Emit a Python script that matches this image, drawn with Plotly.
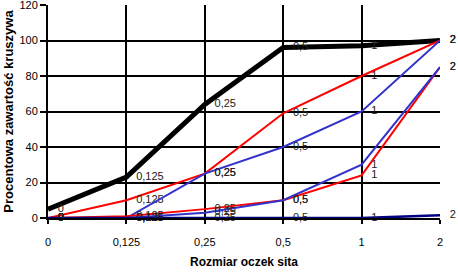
import plotly.graph_objects as go

categories = ["0", "0,125", "0,25", "0,5", "1", "2"]

black_thick = [5, 23, 64, 96, 97, 100]
red_upper = [0, 10, 25, 59, 80, 100]
blue_upper = [0, 0, 25, 40, 60, 100]
red_lower = [0, 1, 5, 10, 24, 85]
blue_lower = [0, 0, 3, 10, 30, 85]
navy_bottom = [0, 0, 0, 0, 0, 1.5]

y_ticks = [0, 20, 40, 60, 80, 100, 120]

series = [
    (black_thick, "#000000", 5),
    (red_upper, "#ff0000", 2),
    (blue_upper, "#3333cc", 2),
    (red_lower, "#ff0000", 2),
    (blue_lower, "#3333cc", 2),
    (navy_bottom, "#000080", 2.5),
]

FONT = "Arial, Liberation Sans, sans-serif"

fig = go.Figure()
for vals, color, w in series:
    fig.add_trace(go.Scatter(
        x=categories, y=vals, mode="lines+markers+text",
        line=dict(color=color, width=w),
        marker=dict(size=14, color="rgba(0,0,0,0)"),
        text=categories, textposition="middle right",
        textfont=dict(family=FONT, size=11, color="#222222"),
        showlegend=False, hoverinfo="skip", cliponaxis=False,
    ))

fig.update_layout(
    width=458, height=273,
    margin=dict(l=48, r=18, t=5, b=55),
    paper_bgcolor="white", plot_bgcolor="white",
    font=dict(family=FONT, size=11, color="#000000"),
)
fig.update_xaxes(
    type="category", categoryorder="array", categoryarray=categories,
    range=[0, 5], showgrid=True, gridcolor="#000000", gridwidth=2,
    showline=True, linecolor="#000000", linewidth=2,
    ticks="outside", ticklen=4, tickwidth=2, tickcolor="#000000",
    ticklabelstandoff=9,
    title=dict(text="Rozmiar oczek sita", font=dict(family=FONT, size=12, color="#000000", weight="bold"), standoff=10),
    automargin=False, zeroline=False,
)
fig.update_yaxes(
    range=[0, 120], tickvals=y_ticks, ticktext=[str(v) for v in y_ticks],
    showgrid=True, gridcolor="#000000", gridwidth=2,
    showline=True, linecolor="#000000", linewidth=2,
    ticks="outside", ticklen=6, tickwidth=2, tickcolor="#000000",
    ticklabeloverflow="allow",
    title=dict(text="Procentowa zawartość kruszywa", font=dict(family=FONT, size=13, color="#000000", weight="bold"), standoff=3),
    automargin=False, zeroline=False,
)

fig.write_html("out.html")
